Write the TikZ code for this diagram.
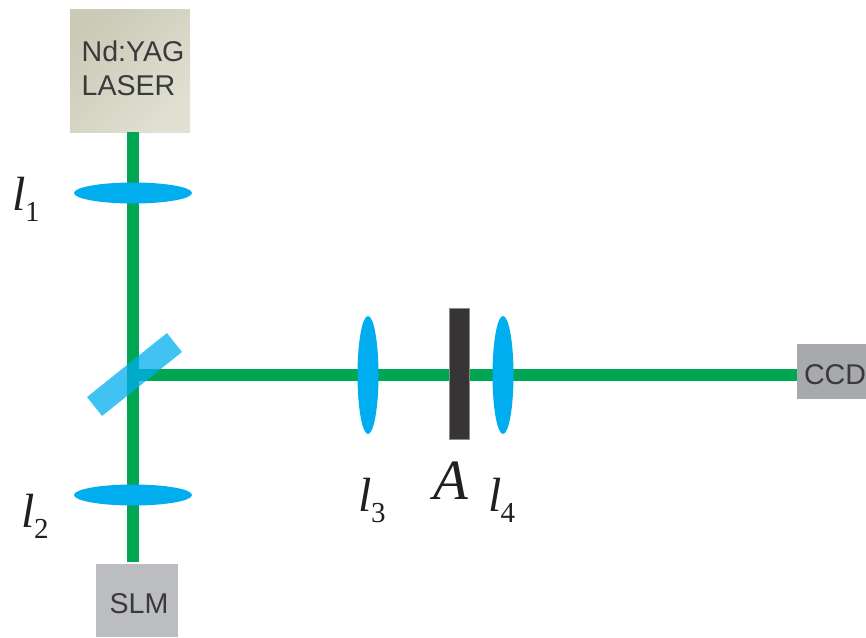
\documentclass[tikz,border=0pt]{standalone}
\usepackage{fontspec}
\setmainfont{Liberation Sans}
\newfontfamily\opticfont{Liberation Serif}[ItalicFont=Liberation Serif Italic]
\usetikzlibrary{shapes.geometric}
\definecolor{beamgreen}{HTML}{00A651}
\definecolor{lensblue}{HTML}{00AEEF}
\definecolor{apdark}{HTML}{363435}
\definecolor{inktext}{HTML}{3A3A3C}
\definecolor{inkmath}{HTML}{231F20}
\definecolor{lasertl}{HTML}{CBCAB7}
\definecolor{laserbr}{HTML}{E0E0D3}
\definecolor{slmgrey}{HTML}{BCBDC0}
\definecolor{ccdgrey}{HTML}{A7A9AC}
\newcommand{\lenslabel}[1]{{\opticfont\fontsize{48}{48}\selectfont\itshape l}\kern-1pt\raisebox{-11.5pt}{\opticfont\fontsize{29}{29}\selectfont #1}}
\tikzset{
  devtext/.style={text=inktext,font=\fontsize{28.6}{34}\selectfont,inner sep=0pt,align=left},
  device/.style={rectangle,inner sep=0pt,draw=none},
  beam/.style={draw=beamgreen,line width=12pt},
  lensh/.style={ellipse,fill=lensblue,inner sep=0pt,minimum width=118pt,minimum height=21pt},
  lensv/.style={ellipse,fill=lensblue,inner sep=0pt,minimum width=21pt,minimum height=118pt},
  mathlabel/.style={anchor=base west,inner sep=0pt,text=inkmath}
}
\begin{document}
\begin{tikzpicture}[x=1pt,y=-1pt]
\useasboundingbox (0,0) rectangle (866,637);
\coordinate (bs) at (133,375);
% devices
\node[device,minimum width=120pt,minimum height=123pt,shading=axis,top color=lasertl,bottom color=laserbr,shading angle=45,
  label={[devtext,xshift=3pt,yshift=2.5pt]center:Nd:YAG\\LASER}] (laser) at (130,70.5) {};
\node[device,fill=slmgrey,minimum width=82pt,minimum height=73pt,
  label={[devtext,xshift=2pt,yshift=-3.5pt]center:SLM}] (slm) at (137,600.5) {};
\node[device,fill=ccdgrey,minimum width=69pt,minimum height=55pt,
  label={[devtext,xshift=3.5pt,yshift=-3.5pt]center:CCD}] (ccd) at (831.5,371.5) {};
% beams
\draw[beam,shorten >=2pt] (laser.south -| bs) -- (slm.north -| bs);
\draw[beam] (bs) -- (bs -| ccd.west);
% optics
\node[lensh] (l1) at (133,193) {};
\node[lensh] (l2) at (133,495) {};
\node[lensv] (l3) at (368,375) {};
\node[lensv] (l4) at (503,375) {};
\node[device,fill=apdark,draw=black!45,line width=.5pt,minimum width=20pt,minimum height=131pt] (ap) at (459.5,373.5) {};
\node[device,fill=lensblue,fill opacity=.75,minimum width=102.4pt,minimum height=24.2pt,rotate=38.7] (bsm) at (134.5,374.5) {};
% labels
\node[mathlabel] (tl1) at (12.5,210) {\lenslabel{1}};
\node[mathlabel] (tl2) at (21.5,527) {\lenslabel{2}};
\node[mathlabel] (tl3) at (358.5,511) {\lenslabel{3}};
\node[mathlabel] (tl4) at (488,511) {\lenslabel{4}};
\node[mathlabel] (ta) at (433,499) {\opticfont\fontsize{57}{57}\selectfont\itshape A};
\end{tikzpicture}
\end{document}
